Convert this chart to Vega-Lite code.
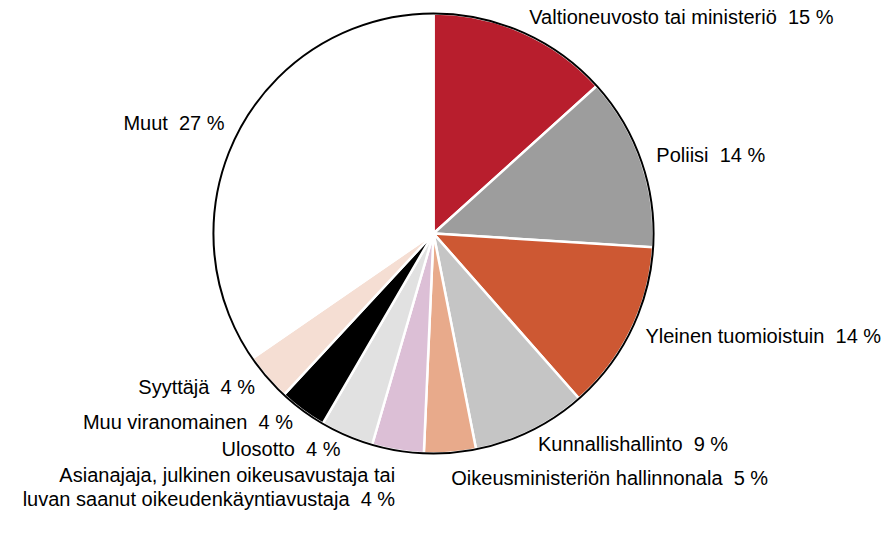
{
  "$schema": "https://vega.github.io/schema/vega-lite/v6.json",
  "width": 867,
  "height": 467,
  "autosize": {"type": "none"},
  "padding": {"left": 0, "top": 0, "right": 24, "bottom": 75},
  "background": "white",
  "config": {"view": {"stroke": null}, "text": {"font": "Liberation Sans, Arial, sans-serif", "fontSize": 20, "fill": "#000000"}},
  "data": {
    "values": [
      {"jarjestys": 1, "kategoria": "Valtioneuvosto tai ministeriö", "osuus": 13.3, "selite": "Valtioneuvosto tai ministeriö \u00a015 %"},
      {"jarjestys": 2, "kategoria": "Poliisi", "osuus": 12.7, "selite": "Poliisi \u00a014 %"},
      {"jarjestys": 3, "kategoria": "Yleinen tuomioistuin", "osuus": 12.5, "selite": "Yleinen tuomioistuin \u00a014 %"},
      {"jarjestys": 4, "kategoria": "Kunnallishallinto", "osuus": 8.4, "selite": "Kunnallishallinto \u00a09 %"},
      {"jarjestys": 5, "kategoria": "Oikeusministeriön hallinnonala", "osuus": 3.8, "selite": "Oikeusministeriön hallinnonala \u00a05 %"},
      {"jarjestys": 6, "kategoria": "Asianajaja, julkinen oikeusavustaja tai luvan saanut oikeudenkäyntiavustaja", "osuus": 3.8, "selite": "Asianajaja, julkinen oikeusavustaja tai\nluvan saanut oikeudenkäyntiavustaja \u00a04 %"},
      {"jarjestys": 7, "kategoria": "Ulosotto", "osuus": 3.9, "selite": "Ulosotto \u00a04 %"},
      {"jarjestys": 8, "kategoria": "Muu viranomainen", "osuus": 3.5, "selite": "Muu viranomainen \u00a04 %"},
      {"jarjestys": 9, "kategoria": "Syyttäjä", "osuus": 3.5, "selite": "Syyttäjä \u00a04 %"},
      {"jarjestys": 10, "kategoria": "Muut", "osuus": 34.6, "selite": "Muut \u00a027 %"}
    ]
  },
  "encoding": {
    "theta": {"field": "osuus", "type": "quantitative", "stack": true},
    "order": {"field": "jarjestys", "type": "quantitative"}
  },
  "layer": [
    {
      "mark": {"type": "arc", "outerRadius": 220, "stroke": "white", "strokeWidth": 2.5},
      "encoding": {
        "color": {
          "field": "kategoria",
          "type": "nominal",
          "legend": null,
          "scale": {
            "domain": ["Valtioneuvosto tai ministeriö", "Poliisi", "Yleinen tuomioistuin", "Kunnallishallinto", "Oikeusministeriön hallinnonala", "Asianajaja, julkinen oikeusavustaja tai luvan saanut oikeudenkäyntiavustaja", "Ulosotto", "Muu viranomainen", "Syyttäjä", "Muut"],
            "range": ["#B81E2D", "#9D9D9D", "#CD5833", "#C5C5C5", "#E8AA8B", "#DCBFD6", "#E1E1E1", "#000000", "#F5DED3", "#FFFFFF"]
          }
        }
      }
    },
    {
      "transform": [{"aggregate": [{"op": "count", "as": "n"}]}],
      "mark": {"type": "arc", "outerRadius": 220, "fill": null, "stroke": "black", "strokeWidth": 2},
      "encoding": {"theta": null, "order": null}
    },
    {
      "mark": {"type": "text", "radius": 236, "align": "left", "baseline": "middle"},
      "encoding": {
        "text": {"condition": {"test": {"field": "kategoria", "oneOf": ["Valtioneuvosto tai ministeriö", "Poliisi", "Yleinen tuomioistuin", "Kunnallishallinto"]}, "field": "selite"}, "value": ""}
      }
    },
    {
      "mark": {"type": "text", "radius": 236, "align": "left", "baseline": "top"},
      "encoding": {
        "text": {"condition": {"test": {"field": "kategoria", "oneOf": ["Oikeusministeriön hallinnonala"]}, "field": "selite"}, "value": ""}
      }
    },
    {
      "mark": {"type": "text", "radius": 236, "align": "right", "baseline": "middle"},
      "encoding": {
        "text": {"condition": {"test": {"field": "kategoria", "oneOf": ["Ulosotto", "Muu viranomainen", "Syyttäjä", "Muut"]}, "field": "selite"}, "value": ""}
      }
    },
    {
      "mark": {"type": "text", "radius": 236, "align": "right", "baseline": "top", "lineBreak": "\n", "lineHeight": 24},
      "encoding": {
        "text": {"condition": {"test": {"field": "kategoria", "oneOf": ["Asianajaja, julkinen oikeusavustaja tai luvan saanut oikeudenkäyntiavustaja"]}, "field": "selite"}, "value": ""}
      }
    }
  ]
}
